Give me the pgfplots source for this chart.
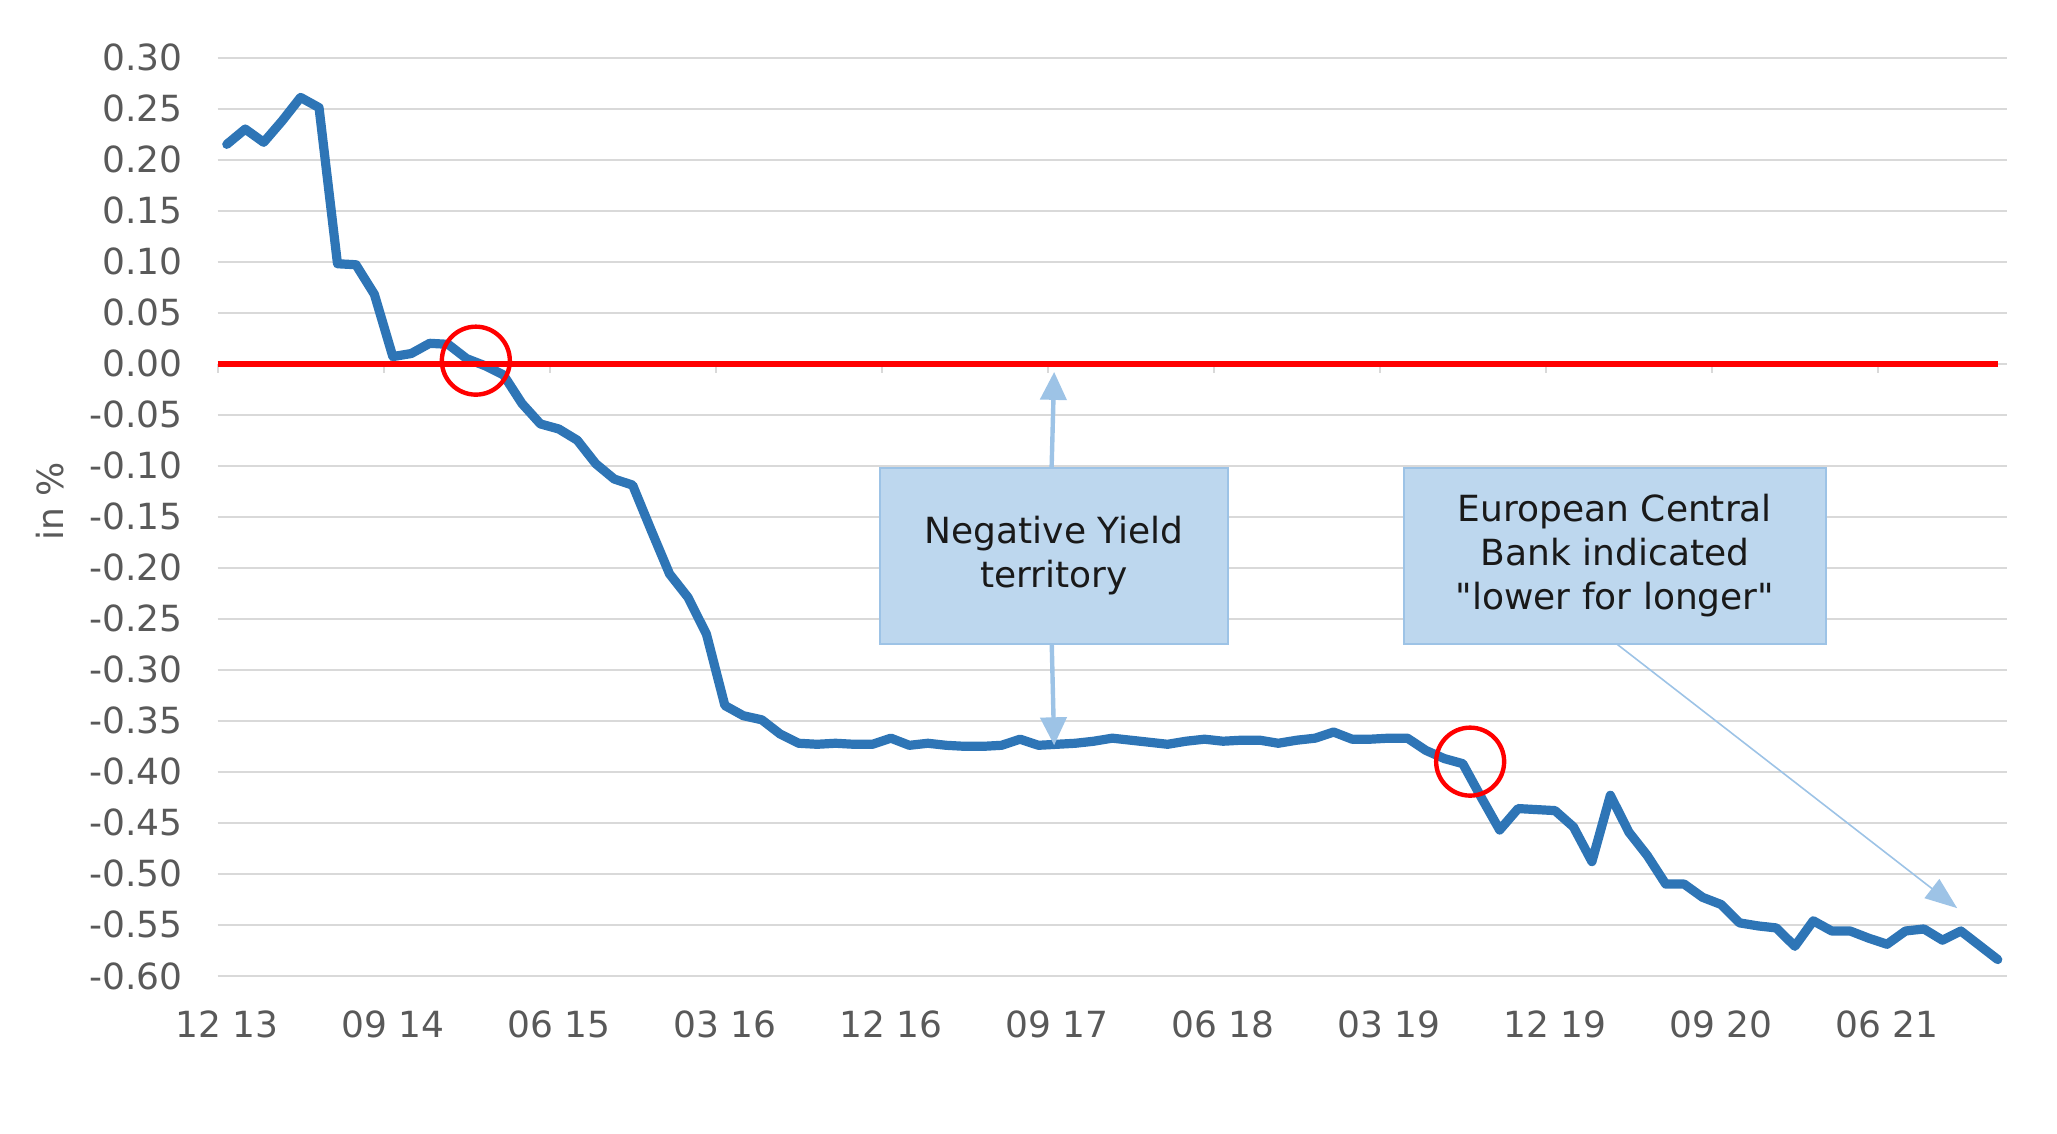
\documentclass[border=0pt]{standalone}
\usepackage{pgfplots}
\pgfplotsset{compat=1.18}
\usepackage{fontspec}
\setmainfont{DejaVu Sans}[Ligatures=TeXOff]
\usetikzlibrary{arrows.meta}
\definecolor{lineblue}{HTML}{2E75B6}
\definecolor{gridgray}{HTML}{D9D9D9}
\definecolor{txtgray}{HTML}{595959}
\definecolor{boxfill}{HTML}{BDD7EE}
\definecolor{boxdraw}{HTML}{9DC3E6}
\begin{document}
\begin{tikzpicture}
\useasboundingbox (-54.4pt,-39.4pt) rectangle (459.9pt,244pt);
\begin{axis}[
  scale only axis, width=447.4pt, height=229.6pt,
  at={(0,0)}, anchor=south west,
  xmin=-0.5, xmax=96.5, ymin=-0.6, ymax=0.3,
  axis line style={draw=none},
  ymajorgrids, grid style={gridgray, line width=0.5pt},
  major tick length=0pt,
  xtick={0,9,18,27,36,45,54,63,72,81,90},
  xticklabels={12 13,09 14,06 15,03 16,12 16,09 17,06 18,03 19,12 19,09 20,06 21},
  ytick={-0.6,-0.55,-0.5,-0.45,-0.4,-0.35,-0.3,-0.25,-0.2,-0.15,-0.1,-0.05,0,0.05,0.1,0.15,0.2,0.25,0.3},
  yticklabels={-0.60,-0.55,-0.50,-0.45,-0.40,-0.35,-0.30,-0.25,-0.20,-0.15,-0.10,-0.05,0.00,0.05,0.10,0.15,0.20,0.25,0.30},
  tick label style={font=\fontsize{9}{11}\selectfont, text=txtgray},
  x tick label style={anchor=north, inner sep=0pt, yshift=-8.5pt},
  y tick label style={anchor=east, inner sep=0pt, xshift=-8.5pt},
  ylabel={in \%},
  ylabel style={at={(axis description cs:-0.0937,0.517)}, anchor=center, font=\fontsize{9}{11}\selectfont, text=txtgray},
  clip=false,
]
% tick marks on the zero line
\addplot[ycomb, gridgray, line width=0.5pt, no marks] coordinates {
(-0.5,-0.009) (8.5,-0.009) (17.5,-0.009) (26.5,-0.009) (35.5,-0.009) (44.5,-0.009)
(53.5,-0.009) (62.5,-0.009) (71.5,-0.009) (80.5,-0.009) (89.5,-0.009)};
% yield series
\addplot[lineblue, line width=2.3pt, line join=round, line cap=round, no marks] table[x=i, y=v] {
i v
0 0.215
1 0.230
2 0.217
3 0.238
4 0.261
5 0.251
6 0.098
7 0.097
8 0.068
9 0.007
10 0.010
11 0.020
12 0.019
13 0.005
14 -0.002
15 -0.011
16 -0.039
17 -0.059
18 -0.064
19 -0.075
20 -0.098
21 -0.113
22 -0.119
23 -0.163
24 -0.206
25 -0.229
26 -0.265
27 -0.335
28 -0.345
29 -0.349
30 -0.363
31 -0.372
32 -0.373
33 -0.372
34 -0.373
35 -0.373
36 -0.367
37 -0.374
38 -0.372
39 -0.374
40 -0.375
41 -0.375
42 -0.374
43 -0.368
44 -0.374
45 -0.373
46 -0.372
47 -0.370
48 -0.367
49 -0.369
50 -0.371
51 -0.373
52 -0.370
53 -0.368
54 -0.370
55 -0.369
56 -0.369
57 -0.372
58 -0.369
59 -0.367
60 -0.361
61 -0.368
62 -0.368
63 -0.367
64 -0.367
65 -0.379
66 -0.387
67 -0.392
68 -0.425
69 -0.457
70 -0.436
71 -0.437
72 -0.438
73 -0.454
74 -0.488
75 -0.423
76 -0.459
77 -0.482
78 -0.510
79 -0.510
80 -0.523
81 -0.530
82 -0.548
83 -0.551
84 -0.553
85 -0.571
86 -0.546
87 -0.556
88 -0.556
89 -0.563
90 -0.569
91 -0.556
92 -0.554
93 -0.565
94 -0.556
95 -0.570
96 -0.584
};
% zero line
\addplot[red, line width=1.6pt, no marks] coordinates {(-0.5,0) (96,0)};
% highlight circles
\addplot[only marks, mark=o, mark size=8.5pt, mark options={red, line width=1.1pt}] coordinates {(13.5,0.003) (67.4,-0.39)};
% annotations
\draw[boxdraw, line width=1.1pt, -{Triangle[width=6.5pt,length=7pt]}] (axis cs:44.7,-0.11) -- (axis cs:44.85,-0.008);
\draw[boxdraw, line width=1.1pt, -{Triangle[width=6.5pt,length=7pt]}] (axis cs:44.7,-0.26) -- (axis cs:44.85,-0.374);
\draw[boxdraw, line width=0.4pt, -{Triangle[width=6pt,length=8pt]}] (axis cs:75.3,-0.274) -- (axis cs:93.8,-0.5336);
\node[draw=boxdraw, fill=boxfill, line width=0.5pt, minimum width=87pt, minimum height=44pt, align=center, font=\fontsize{9}{11}\selectfont, text=black!90] at (axis cs:44.85,-0.188) {Negative Yield\\territory};
\node[draw=boxdraw, fill=boxfill, line width=0.5pt, minimum width=105.5pt, minimum height=44pt, align=center, font=\fontsize{9}{11}\selectfont, text=black!90] at (axis cs:75.25,-0.188) {European Central\\Bank indicated\\"lower for longer"};
\end{axis}
\end{tikzpicture}
\end{document}
